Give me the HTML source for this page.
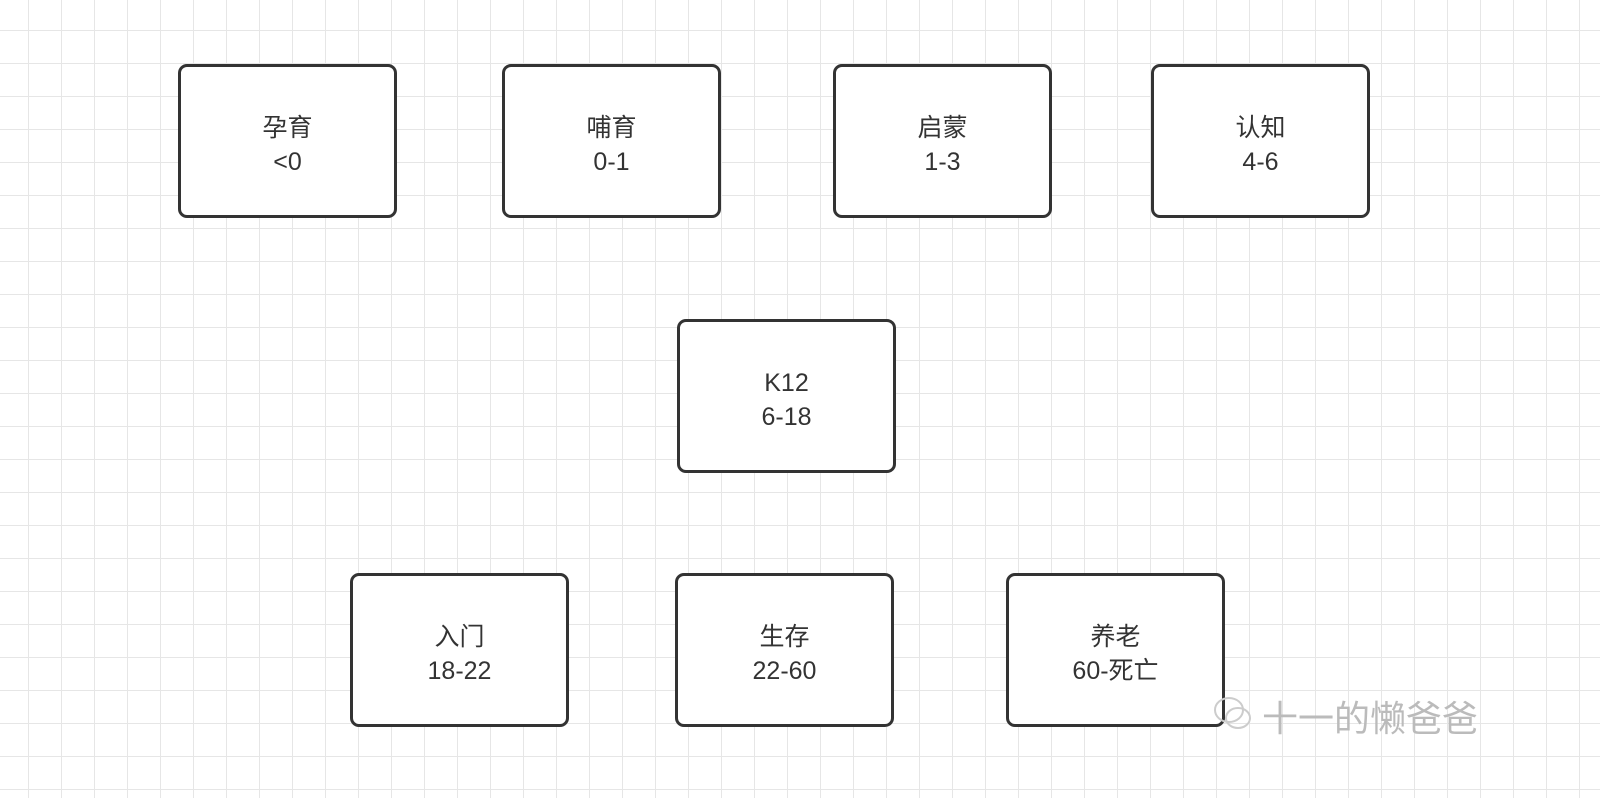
<!DOCTYPE html>
<html><head><meta charset="utf-8"><style>
html,body{margin:0;padding:0}
body{width:1600px;height:798px;overflow:hidden;position:relative;background-color:#fff;
background-image:linear-gradient(#e6e6e6 1px,transparent 1px),linear-gradient(90deg,#e6e6e6 1px,transparent 1px);
background-size:33px 33px;background-position:0 30px,28px 0;
font-family:"Liberation Sans","Noto Sans CJK SC",sans-serif}
.b{position:absolute;width:213px;height:148px;border:3px solid #333;border-radius:9px;background:#fff;box-sizing:content-box;
display:flex;justify-content:center;align-items:center;color:#333;font-size:25px;line-height:34px;text-align:center}
.b>div{margin-top:8px}
.wm{position:absolute;top:690px;color:#bbb;font-size:36px;font-family:"Noto Sans CJK SC",sans-serif}
</style></head><body>
<div class="b" style="left:178px;top:64px"><div>孕育<br>&lt;0</div></div>
<div class="b" style="left:502px;top:64px"><div>哺育<br>0-1</div></div>
<div class="b" style="left:833px;top:64px"><div>启蒙<br>1-3</div></div>
<div class="b" style="left:1151px;top:64px"><div>认知<br>4-6</div></div>
<div class="b" style="left:677px;top:319px"><div>K12<br>6-18</div></div>
<div class="b" style="left:350px;top:573px"><div>入门<br>18-22</div></div>
<div class="b" style="left:675px;top:573px"><div>生存<br>22-60</div></div>
<div class="b" style="left:1006px;top:573px"><div>养老<br>60-死亡</div></div>
<svg style="position:absolute;left:1212px;top:694px" width="42" height="40"><ellipse cx="17" cy="16" rx="14" ry="12" fill="none" stroke="#ccc" stroke-width="2"/><ellipse cx="26" cy="24" rx="12" ry="10" fill="none" stroke="#ccc" stroke-width="2"/></svg>
<div class="wm" style="left:1262px">十一的懒爸爸</div>
</body></html>
